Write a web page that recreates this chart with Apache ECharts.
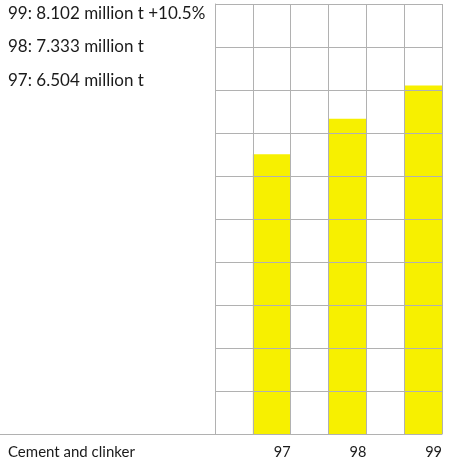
<!DOCTYPE html>
<html>
<head>
<meta charset="utf-8">
<script src="https://cdn.jsdelivr.net/npm/echarts@6/dist/echarts.min.js"></script>
<style>
  html, body { margin: 0; padding: 0; background: #fff; }
  #chart { width: 449px; height: 462px; }
</style>
</head>
<body>
<div id="chart"></div>
<script>
// Cement and clinker output, million tonnes
const years = ['97', '98', '99'];
const volumes = [6.504, 7.333, 8.102];
const summaryLines = [
  '99: 8.102 million t +10.5%',
  '98: 7.333 million t',
  '97: 6.504 million t'
];
const categoryTitle = 'Cement and clinker';

const FONT = 'Lato, "Open Sans", sans-serif';
const GRID_COLOR = '#b1b1b1';
const BAR_COLOR = '#f7f000';
const TEXT_COLOR = '#1a1a1a';

// Each year gets a column, preceded by an empty spacer column
const columns = [];
const columnValues = [];
years.forEach((y, i) => {
  columns.push('', y);
  columnValues.push(null, volumes[i]);
});

// Boundary positions used to place the year labels at the right edge of each bar
const boundaryLabels = [''].concat(columns);

const chart = echarts.init(document.getElementById('chart'), null, { renderer: 'canvas' });

const gridBox = { left: 215, top: 4, width: 227, height: 430 };

chart.setOption({
  animation: false,
  backgroundColor: '#fff',
  grid: gridBox,
  xAxis: [
    {
      type: 'category',
      data: columns,
      boundaryGap: true,
      z: 3,
      axisLine: { show: true, lineStyle: { color: GRID_COLOR, width: 1 } },
      axisTick: { show: false },
      axisLabel: { show: false },
      splitLine: { show: true, interval: 0, lineStyle: { color: GRID_COLOR, width: 1 } }
    },
    {
      type: 'category',
      data: boundaryLabels,
      boundaryGap: false,
      position: 'bottom',
      z: 3,
      axisLine: { show: false },
      axisTick: { show: false },
      splitLine: { show: false },
      axisLabel: {
        show: true,
        interval: 0,
        align: 'right',
        margin: 11,
        fontFamily: FONT,
        fontSize: 14.5,
        color: TEXT_COLOR
      }
    }
  ],
  yAxis: {
    type: 'value',
    min: 0,
    max: 10,
    interval: 1,
    z: 3,
    axisLine: { show: true, lineStyle: { color: GRID_COLOR, width: 1 } },
    axisTick: { show: false },
    axisLabel: { show: false },
    splitLine: { show: true, lineStyle: { color: GRID_COLOR, width: 1 } }
  },
  series: [
    {
      type: 'bar',
      xAxisIndex: 0,
      data: columnValues,
      barWidth: '100%',
      barGap: '0%',
      z: 2,
      itemStyle: { color: BAR_COLOR },
      silent: true
    }
  ],
  graphic: [
    // baseline continues under the category title
    {
      type: 'line',
      shape: { x1: 0, y1: 434.5, x2: 215, y2: 434.5 },
      style: { stroke: GRID_COLOR, lineWidth: 1 },
      z: 10
    },
    {
      type: 'text',
      x: 8,
      y: 452,
      style: {
        text: categoryTitle, font: '15px ' + FONT, fill: TEXT_COLOR,
        verticalAlign: 'middle'
      }
    }
  ].concat(summaryLines.map((t, i) => ({
    type: 'text',
    x: 8,
    y: 13.5 + i * 33.3,
    style: { text: t, font: '17px ' + FONT, fill: TEXT_COLOR, verticalAlign: 'middle' }
  })))
});
</script>
</body>
</html>
